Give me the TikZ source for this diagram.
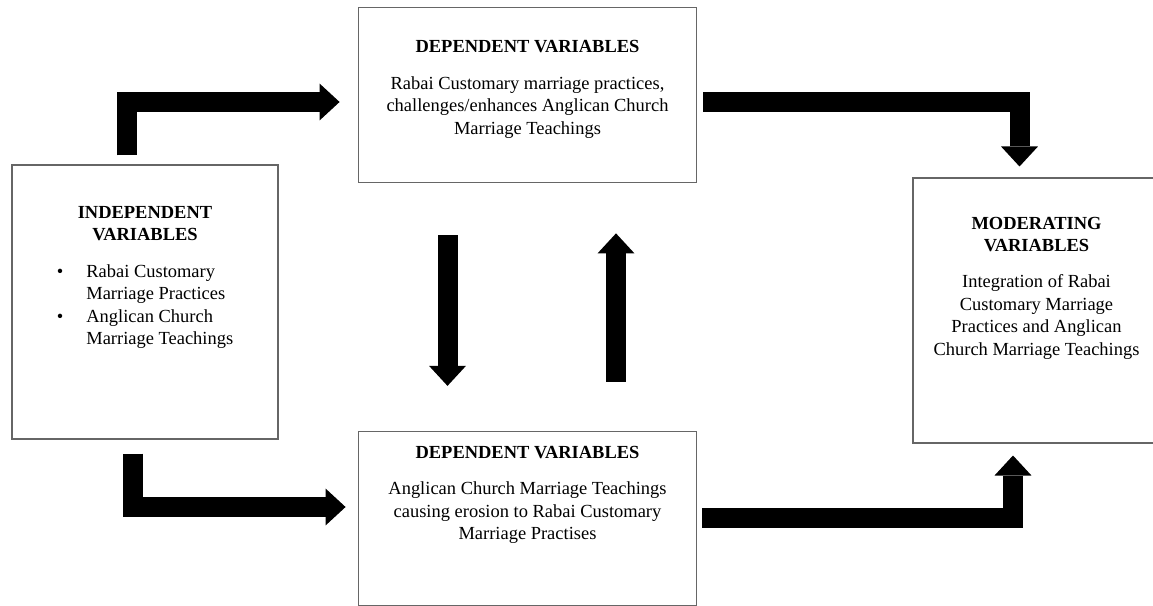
\documentclass[tikz,border=0pt]{standalone}
\usepackage{fontspec}
\setmainfont{Liberation Serif}
\usetikzlibrary{arrows.meta,positioning,calc}
\tikzset{
  box/.style={draw=black!60,line width=0.9pt,inner sep=0pt},
  boxtext/.style={align=center,inner sep=0pt,font=\fontsize{12}{14.6}\selectfont},
  blockarrow/.style={line width=13pt,-{Triangle[width=24pt,length=13pt,line width=0pt]}},
  framework/.style={x=0.65pt,y=-0.65pt,node distance=1cm}
}

\begin{document}
\begin{tikzpicture}[framework]
  \useasboundingbox (0,0) rectangle (1153,606);
  \clip (0,0) rectangle (1153,606);
  \node (indep) [box,minimum width=173pt,minimum height=178pt] at (145,302) {};
  \node (depA) [box,minimum width=220pt,minimum height=114pt] at (527.5,95) {};
  \node (depB) [box,minimum width=220pt,minimum height=113pt] at (527.5,518.5) {};
  \node (mod) [box,minimum width=180pt,minimum height=172pt] at (1051.5,310.5) {};

  \node (indeptext) [boxtext,below=27pt of indep.north] {\textbf{INDEPENDENT}\\\textbf{VARIABLES}\\[9pt]
    \begin{tabular}[t]{@{}l@{\hspace{15pt}}l@{}}
      \textbullet & Rabai Customary\\
                  & Marriage Practices\\
      \textbullet & Anglican Church\\
                  & Marriage Teachings
    \end{tabular}};
  \node (depAtext) [boxtext,below=22pt of depA.north] {\textbf{DEPENDENT VARIABLES}\\[9pt]
    Rabai Customary marriage practices,\\challenges/enhances Anglican Church\\Marriage Teachings};
  \node (depBtext) [boxtext,below=9.75pt of depB.north] {\textbf{DEPENDENT VARIABLES}\\[9pt]
    Anglican Church Marriage Teachings\\causing erosion to Rabai Customary\\Marriage Practises};
  \node (modtext) [boxtext,below=25.4pt of mod.north,xshift=-9.75pt] {\textbf{MODERATING}\\\textbf{VARIABLES}\\[9pt]
    Integration of Rabai\\Customary Marriage\\Practices and Anglican\\Church Marriage Teachings};

  \draw[blockarrow] ($(indep.north)+(-18,-9)$) |- ($(depA.west)+(-18,7)$);
  \draw[blockarrow] ($(depA.east)+(6,7.5)$) -| ($(mod.north)+(-32,-11)$);
  \draw[blockarrow] ($(depA.south)+(-80,52)$) -- ($(depB.north)+(-80,-45)$);
  \draw[blockarrow] ($(depB.north)+(88.5,-49)$) -- ($(depA.south)+(88.5,50)$);
  \draw[blockarrow] ($(indep.south)+(-12,14)$) |- ($(depB.west)+(-12,-11.5)$);
  \draw[blockarrow] ($(depB.east)+(5,-1)$) -| ($(mod.south)+(-38.5,12)$);
\end{tikzpicture}
\end{document}
